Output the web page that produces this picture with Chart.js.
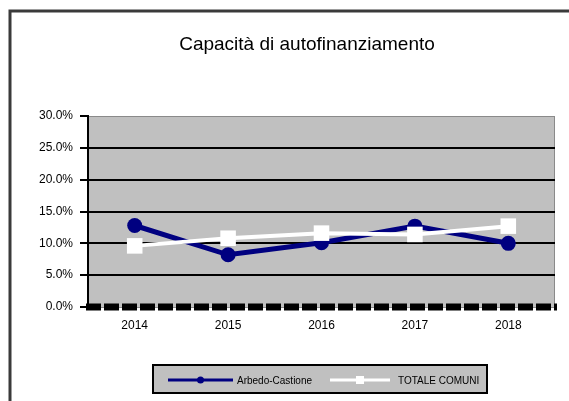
<!DOCTYPE html>
<html>
<head>
<meta charset="utf-8">
<script src="https://cdn.jsdelivr.net/npm/chart.js@4/dist/chart.umd.min.js"></script>
<style>
  body { margin: 0; background: #fff; }
  #wrap { width: 569px; height: 401px; position: relative; }
</style>
</head>
<body>
<div id="wrap"><canvas id="chart"></canvas></div>
<script>
const titolo = 'Capacità di autofinanziamento';
const anni = ['2014', '2015', '2016', '2017', '2018'];
const arbedo = [12.8, 8.2, 10.1, 12.7, 10.0];
const totale = [9.6, 10.8, 11.6, 11.4, 12.7];
const nomiSerie = ['Arbedo-Castione', 'TOTALE COMUNI'];

const FONT = '"Liberation Sans", Arial, sans-serif';

// sfondo grigio dell'area del grafico + cornice esterna
const sfondo = {
  id: 'sfondo',
  beforeDraw(chart) {
    const { ctx, chartArea: a } = chart;
    ctx.save();
    ctx.fillStyle = '#c0c0c0';
    ctx.fillRect(a.left, a.top, a.right - a.left, a.bottom - a.top);
    ctx.strokeStyle = '#8a8a8a';
    ctx.lineWidth = 1;
    ctx.strokeRect(a.left + 0.5, a.top + 0.5, a.right - a.left - 1, a.bottom - a.top);
    ctx.strokeStyle = '#3a3a3a';
    ctx.lineWidth = 3;
    ctx.strokeRect(10, 11, 700, 500);
    ctx.restore();
  }
};

// asse x tratteggiato, titolo e legenda disegnati a mano
const decorazioni = {
  id: 'decorazioni',
  afterDraw(chart) {
    const { ctx, chartArea: a } = chart;
    const y0 = chart.scales.y.getPixelForValue(0);
    ctx.save();
    ctx.strokeStyle = '#000';
    ctx.lineWidth = 7;
    ctx.setLineDash([15, 3]);
    ctx.beginPath();
    ctx.moveTo(a.left - 2, y0);
    ctx.lineTo(a.right + 2, y0);
    ctx.stroke();
    ctx.setLineDash([]);

    ctx.fillStyle = '#000';
    ctx.font = '19px ' + FONT;
    ctx.textAlign = 'center';
    ctx.textBaseline = 'middle';
    ctx.fillText(titolo, 307, 45);

    // riquadro legenda
    ctx.fillStyle = '#c0c0c0';
    ctx.fillRect(153, 365, 334, 28);
    ctx.strokeStyle = '#000';
    ctx.lineWidth = 2;
    ctx.strokeRect(153, 365, 334, 28);

    const voci = [
      { x1: 168, x2: 233, tx: 237 },
      { x1: 330, x2: 390, tx: 398 }
    ];
    const y = 380;
    ctx.font = '10px ' + FONT;
    ctx.textAlign = 'left';
    chart.data.datasets.forEach((ds, i) => {
      const v = voci[i];
      ctx.strokeStyle = ds.borderColor;
      ctx.lineWidth = 3;
      ctx.beginPath();
      ctx.moveTo(v.x1, y);
      ctx.lineTo(v.x2, y);
      ctx.stroke();
      ctx.fillStyle = ds.pointBackgroundColor;
      const mx = (v.x1 + v.x2) / 2;
      if (ds.pointStyle === 'rect') {
        ctx.fillRect(mx - 4, y - 4, 8, 8);
      } else {
        ctx.beginPath();
        ctx.arc(mx, y, 3.5, 0, Math.PI * 2);
        ctx.fill();
      }
      ctx.fillStyle = '#000';
      ctx.fillText(nomiSerie[i], v.tx, y + 1);
    });
    ctx.restore();
  }
};

new Chart(document.getElementById('chart'), {
  type: 'line',
  data: {
    labels: anni,
    datasets: [
      {
        label: nomiSerie[0],
        data: arbedo,
        borderColor: '#000080',
        backgroundColor: '#000080',
        pointBackgroundColor: '#000080',
        pointBorderWidth: 0,
        borderWidth: 5,
        pointRadius: 7.5,
        pointStyle: 'circle',
        order: 1
      },
      {
        label: nomiSerie[1],
        data: totale,
        borderColor: '#ffffff',
        backgroundColor: '#ffffff',
        pointBackgroundColor: '#ffffff',
        pointBorderWidth: 0,
        borderWidth: 4,
        pointRadius: 11,
        pointStyle: 'rect',
        order: 0
      }
    ]
  },
  options: {
    responsive: true,
    maintainAspectRatio: false,
    animation: false,
    layout: { padding: { left: 10, right: 14, top: 116, bottom: 64 } },
    plugins: {
      legend: { display: false },
      title: { display: false },
      tooltip: { enabled: false }
    },
    scales: {
      x: {
        offset: true,
        afterFit: s => { s.height = 30; },
        grid: { display: false },
        border: { display: false },
        ticks: { color: '#000', font: { family: FONT, size: 12 }, padding: 3 }
      },
      y: {
        min: 0,
        max: 30,
        afterFit: s => { s.width = 78; },
        grid: {
          color: c => (c.tick && (c.tick.value === 30 || c.tick.value === 0)) ? 'rgba(0,0,0,0)' : '#000',
          tickColor: '#000',
          lineWidth: 2,
          tickLength: 8
        },
        border: { display: true, color: '#000', width: 2 },
        ticks: {
          stepSize: 5,
          color: '#000',
          padding: 7,
          font: { family: FONT, size: 12 },
          callback: v => v.toFixed(1) + '%'
        }
      }
    }
  },
  plugins: [sfondo, decorazioni]
});
</script>
</body>
</html>
